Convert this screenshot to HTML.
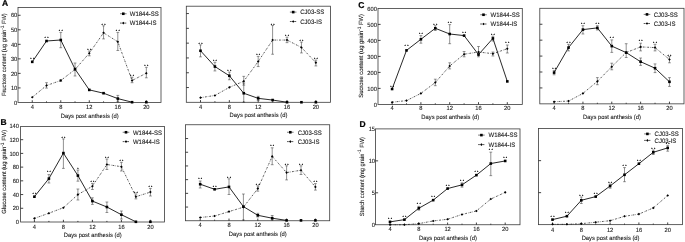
<!DOCTYPE html>
<html><head><meta charset="utf-8"><title>Figure</title>
<style>html,body{margin:0;padding:0;background:#fff}svg{display:block}</style></head>
<body>
<svg width="685" height="242" viewBox="0 0 685 242" font-family="Liberation Sans, sans-serif" text-rendering="geometricPrecision" font-size="5.8" fill="#1a1a1a" stroke="#1a1a1a" stroke-width="0.1">
<rect width="685" height="242" fill="#fff" stroke="none"/>
<g>
<rect x="18" y="7.5" width="143" height="94.95" fill="none" stroke="#3a3a3a" stroke-width="0.8"/>
<path d="M32.25 102.45v-2.2M46.51 102.45v-1.1M60.77 102.45v-2.2M75.03 102.45v-1.1M89.29 102.45v-2.2M103.55 102.45v-1.1M117.81 102.45v-2.2M132.07 102.45v-1.1M146.33 102.45v-2.2M18 87.92h2.6M18 73.39h2.6M18 58.86h2.6M18 44.33h2.6M18 29.8h2.6M18 15.27h2.6" stroke="#222" stroke-width="0.85" fill="none"/>
<text transform="translate(32.25 109.4) scale(0.94 1)" text-anchor="middle" font-size="6.1">4</text>
<text transform="translate(60.77 109.4) scale(0.94 1)" text-anchor="middle" font-size="6.1">8</text>
<text transform="translate(89.29 109.4) scale(0.94 1)" text-anchor="middle" font-size="6.1">12</text>
<text transform="translate(117.81 109.4) scale(0.94 1)" text-anchor="middle" font-size="6.1">16</text>
<text transform="translate(146.33 109.4) scale(0.94 1)" text-anchor="middle" font-size="6.1">20</text>
<text transform="translate(17.3 104.65) scale(0.94 1)" text-anchor="end" font-size="6.1">0</text>
<text transform="translate(17.3 90.12) scale(0.94 1)" text-anchor="end" font-size="6.1">10</text>
<text transform="translate(17.3 75.59) scale(0.94 1)" text-anchor="end" font-size="6.1">20</text>
<text transform="translate(17.3 61.06) scale(0.94 1)" text-anchor="end" font-size="6.1">30</text>
<text transform="translate(17.3 46.53) scale(0.94 1)" text-anchor="end" font-size="6.1">40</text>
<text transform="translate(17.3 32) scale(0.94 1)" text-anchor="end" font-size="6.1">50</text>
<text transform="translate(17.3 17.47) scale(0.94 1)" text-anchor="end" font-size="6.1">60</text>
<text transform="translate(89.7 118.2) scale(0.962 1)" text-anchor="middle" font-size="6.06">Days post anthesis (d)</text>
<path d="M60.77 32.4V47.7M75.03 63V76M117.81 95.4V101.3M46.51 82.7V88.1M60.77 79.5V81.5M89.29 51V55.8M103.55 25.8V38.9M117.81 32.4V50.5M132.07 77.2V82.7M146.33 67.3V77.8" stroke="#222" stroke-width="0.5" fill="none"/>
<path d="M59.37 32.4h2.8M59.37 47.7h2.8M73.63 63h2.8M73.63 76h2.8M116.41 95.4h2.8M116.41 101.3h2.8M45.11 82.7h2.8M45.11 88.1h2.8M59.37 79.5h2.8M59.37 81.5h2.8M87.89 51h2.8M87.89 55.8h2.8M102.15 25.8h2.8M102.15 38.9h2.8M116.41 32.4h2.8M116.41 50.5h2.8M130.67 77.2h2.8M130.67 82.7h2.8M144.93 67.3h2.8M144.93 77.8h2.8" stroke="#333" stroke-width="0.5" fill="none"/>
<polyline points="32.25,97.3 46.51,85.5 60.77,80.5 75.03,69.5 89.29,53.2 103.55,32.8 117.81,41.8 132.07,80.5 146.33,73.2" fill="none" stroke="#111" stroke-width="0.7" stroke-dasharray="1.8 1.1 0.5 1.1"/>
<path d="M32.25 96l1.3 1.3l-1.3 1.3l-1.3-1.3z" fill="#000" stroke="none"/>
<path d="M46.51 84.2l1.3 1.3l-1.3 1.3l-1.3-1.3z" fill="#000" stroke="none"/>
<path d="M60.77 79.2l1.3 1.3l-1.3 1.3l-1.3-1.3z" fill="#000" stroke="none"/>
<path d="M75.03 68.2l1.3 1.3l-1.3 1.3l-1.3-1.3z" fill="#000" stroke="none"/>
<path d="M89.29 51.9l1.3 1.3l-1.3 1.3l-1.3-1.3z" fill="#000" stroke="none"/>
<path d="M103.55 31.5l1.3 1.3l-1.3 1.3l-1.3-1.3z" fill="#000" stroke="none"/>
<path d="M117.81 40.5l1.3 1.3l-1.3 1.3l-1.3-1.3z" fill="#000" stroke="none"/>
<path d="M132.07 79.2l1.3 1.3l-1.3 1.3l-1.3-1.3z" fill="#000" stroke="none"/>
<path d="M146.33 71.9l1.3 1.3l-1.3 1.3l-1.3-1.3z" fill="#000" stroke="none"/>
<path d="M32.25 61.85L46.51 41M46.51 41L60.77 40M60.77 40L75.03 69.1M75.03 69.1L89.29 89.9M89.29 89.9L103.55 93.2M103.55 93.2L117.81 98.6M117.81 98.6L132.07 102.2" fill="none" stroke="#111" stroke-width="0.9" stroke-linecap="round"/>
<rect x="30.95" y="60.55" width="2.6" height="2.6" fill="#000" stroke="none"/>
<rect x="45.21" y="39.7" width="2.6" height="2.6" fill="#000" stroke="none"/>
<rect x="59.47" y="38.7" width="2.6" height="2.6" fill="#000" stroke="none"/>
<rect x="73.73" y="67.8" width="2.6" height="2.6" fill="#000" stroke="none"/>
<rect x="87.99" y="88.6" width="2.6" height="2.6" fill="#000" stroke="none"/>
<rect x="102.25" y="91.9" width="2.6" height="2.6" fill="#000" stroke="none"/>
<rect x="116.51" y="97.3" width="2.6" height="2.6" fill="#000" stroke="none"/>
<rect x="130.77" y="100.9" width="2.6" height="2.6" fill="#000" stroke="none"/>
<rect x="145.03" y="100.9" width="2.6" height="2.6" fill="#000" stroke="none"/>
<text x="32.9" y="60" text-anchor="middle" font-size="3.4" letter-spacing="1.3" fill="#000" stroke="#000" stroke-width="0.15">**</text>
<text x="47.16" y="38.9" text-anchor="middle" font-size="3.4" letter-spacing="1.3" fill="#000" stroke="#000" stroke-width="0.15">**</text>
<text x="61.42" y="32.4" text-anchor="middle" font-size="3.4" letter-spacing="1.3" fill="#000" stroke="#000" stroke-width="0.15">**</text>
<text x="89.94" y="50.75" text-anchor="middle" font-size="3.4" letter-spacing="1.3" fill="#000" stroke="#000" stroke-width="0.15">**</text>
<text x="104.2" y="25.8" text-anchor="middle" font-size="3.4" letter-spacing="1.3" fill="#000" stroke="#000" stroke-width="0.15">**</text>
<text x="118.46" y="32.3" text-anchor="middle" font-size="3.4" letter-spacing="1.3" fill="#000" stroke="#000" stroke-width="0.15">**</text>
<text x="132.72" y="77.2" text-anchor="middle" font-size="3.4" letter-spacing="1.3" fill="#000" stroke="#000" stroke-width="0.15">**</text>
<text x="146.98" y="67.3" text-anchor="middle" font-size="3.4" letter-spacing="1.3" fill="#000" stroke="#000" stroke-width="0.15">**</text>
<path d="M120 13.75h6.6" stroke="#222" stroke-width="0.6"/>
<rect x="122" y="12.45" width="2.6" height="2.6" fill="#000" stroke="none"/>
<path d="M120 23.1h6.6" stroke="#111" stroke-width="0.7" stroke-dasharray="1.8 1.1 0.5 1.1"/>
<path d="M123.3 21.8l1.3 1.3l-1.3 1.3l-1.3-1.3z" fill="#000" stroke="none"/>
<text transform="translate(129.75 16) scale(0.955 1)" font-size="6.3">W1844-SS</text>
<text transform="translate(129.75 25.35) scale(0.955 1)" font-size="6.3">W1844-IS</text>
</g>
<g>
<rect x="186.3" y="6.2" width="144.2" height="96.1" fill="none" stroke="#3a3a3a" stroke-width="0.8"/>
<path d="M200.5 102.3v-2.2M214.92 102.3v-1.1M229.34 102.3v-2.2M243.76 102.3v-1.1M258.18 102.3v-2.2M272.6 102.3v-1.1M287.02 102.3v-2.2M301.44 102.3v-1.1M315.86 102.3v-2.2M186.3 87.55h2.6M186.3 72.75h2.6M186.3 57.95h2.6M186.3 43.15h2.6M186.3 28.35h2.6M186.3 13.55h2.6" stroke="#222" stroke-width="0.85" fill="none"/>
<text transform="translate(200.5 108.95) scale(0.94 1)" text-anchor="middle" font-size="6.1">4</text>
<text transform="translate(229.34 108.95) scale(0.94 1)" text-anchor="middle" font-size="6.1">8</text>
<text transform="translate(258.18 108.95) scale(0.94 1)" text-anchor="middle" font-size="6.1">12</text>
<text transform="translate(287.02 108.95) scale(0.94 1)" text-anchor="middle" font-size="6.1">16</text>
<text transform="translate(315.86 108.95) scale(0.94 1)" text-anchor="middle" font-size="6.1">20</text>
<text transform="translate(258.5 117.2) scale(0.962 1)" text-anchor="middle" font-size="6.06">Days post anthesis (d)</text>
<path d="M200.5 44.85V56.85M214.92 62.25V70.95M229.34 72.05V79.75M243.76 83.05V102.3M258.18 96.35V100.35M243.76 76.35V85.15M258.18 56.35V66.55M272.6 25.55V54.25M287.02 37.15V42.65M301.44 42.05V52.95M315.86 60.05V65.95" stroke="#222" stroke-width="0.5" fill="none"/>
<path d="M199.1 44.85h2.8M199.1 56.85h2.8M213.52 62.25h2.8M213.52 70.95h2.8M227.94 72.05h2.8M227.94 79.75h2.8M242.36 83.05h2.8M242.36 102.3h2.8M256.78 96.35h2.8M256.78 100.35h2.8M242.36 76.35h2.8M242.36 85.15h2.8M256.78 56.35h2.8M256.78 66.55h2.8M271.2 25.55h2.8M271.2 54.25h2.8M285.62 37.15h2.8M285.62 42.65h2.8M300.04 42.05h2.8M300.04 52.95h2.8M314.46 60.05h2.8M314.46 65.95h2.8" stroke="#333" stroke-width="0.5" fill="none"/>
<polyline points="200.5,97.65 214.92,95.45 229.34,87.35 243.76,81.25 258.18,61.55 272.6,40.05 287.02,40.05 301.44,47.45 315.86,62.65" fill="none" stroke="#111" stroke-width="0.7" stroke-dasharray="1.8 1.1 0.5 1.1"/>
<path d="M200.5 96.35l1.3 1.3l-1.3 1.3l-1.3-1.3z" fill="#000" stroke="none"/>
<path d="M214.92 94.15l1.3 1.3l-1.3 1.3l-1.3-1.3z" fill="#000" stroke="none"/>
<path d="M229.34 86.05l1.3 1.3l-1.3 1.3l-1.3-1.3z" fill="#000" stroke="none"/>
<path d="M243.76 79.95l1.3 1.3l-1.3 1.3l-1.3-1.3z" fill="#000" stroke="none"/>
<path d="M258.18 60.25l1.3 1.3l-1.3 1.3l-1.3-1.3z" fill="#000" stroke="none"/>
<path d="M272.6 38.75l1.3 1.3l-1.3 1.3l-1.3-1.3z" fill="#000" stroke="none"/>
<path d="M287.02 38.75l1.3 1.3l-1.3 1.3l-1.3-1.3z" fill="#000" stroke="none"/>
<path d="M301.44 46.15l1.3 1.3l-1.3 1.3l-1.3-1.3z" fill="#000" stroke="none"/>
<path d="M315.86 61.35l1.3 1.3l-1.3 1.3l-1.3-1.3z" fill="#000" stroke="none"/>
<path d="M200.5 50.75L214.92 66.55M214.92 66.55L229.34 75.75M229.34 75.75L243.76 93.25M243.76 93.25L258.18 98.35M258.18 98.35L272.6 100.05M272.6 100.05L287.02 102.25" fill="none" stroke="#111" stroke-width="0.9" stroke-linecap="round"/>
<rect x="199.2" y="49.45" width="2.6" height="2.6" fill="#000" stroke="none"/>
<rect x="213.62" y="65.25" width="2.6" height="2.6" fill="#000" stroke="none"/>
<rect x="228.04" y="74.45" width="2.6" height="2.6" fill="#000" stroke="none"/>
<rect x="242.46" y="91.95" width="2.6" height="2.6" fill="#000" stroke="none"/>
<rect x="256.88" y="97.05" width="2.6" height="2.6" fill="#000" stroke="none"/>
<rect x="271.3" y="98.75" width="2.6" height="2.6" fill="#000" stroke="none"/>
<rect x="285.72" y="100.95" width="2.6" height="2.6" fill="#000" stroke="none"/>
<rect x="300.14" y="100.95" width="2.6" height="2.6" fill="#000" stroke="none"/>
<rect x="314.56" y="100.95" width="2.6" height="2.6" fill="#000" stroke="none"/>
<text x="201.15" y="44.65" text-anchor="middle" font-size="3.4" letter-spacing="1.3" fill="#000" stroke="#000" stroke-width="0.15">**</text>
<text x="215.57" y="62.05" text-anchor="middle" font-size="3.4" letter-spacing="1.3" fill="#000" stroke="#000" stroke-width="0.15">**</text>
<text x="229.99" y="72.05" text-anchor="middle" font-size="3.4" letter-spacing="1.3" fill="#000" stroke="#000" stroke-width="0.15">**</text>
<text x="258.83" y="56.1" text-anchor="middle" font-size="3.4" letter-spacing="1.3" fill="#000" stroke="#000" stroke-width="0.15">**</text>
<text x="273.25" y="25.55" text-anchor="middle" font-size="3.4" letter-spacing="1.3" fill="#000" stroke="#000" stroke-width="0.15">**</text>
<text x="287.67" y="36.95" text-anchor="middle" font-size="3.4" letter-spacing="1.3" fill="#000" stroke="#000" stroke-width="0.15">**</text>
<text x="302.09" y="42.05" text-anchor="middle" font-size="3.4" letter-spacing="1.3" fill="#000" stroke="#000" stroke-width="0.15">**</text>
<text x="316.51" y="60.05" text-anchor="middle" font-size="3.4" letter-spacing="1.3" fill="#000" stroke="#000" stroke-width="0.15">**</text>
<path d="M289.9 12.1h6.6" stroke="#222" stroke-width="0.6"/>
<rect x="291.9" y="10.8" width="2.6" height="2.6" fill="#000" stroke="none"/>
<path d="M289.9 21.5h6.6" stroke="#111" stroke-width="0.7" stroke-dasharray="1.8 1.1 0.5 1.1"/>
<path d="M293.2 20.2l1.3 1.3l-1.3 1.3l-1.3-1.3z" fill="#000" stroke="none"/>
<text transform="translate(300.25 14.35) scale(0.955 1)" font-size="6.3">CJ03-SS</text>
<text transform="translate(300.25 23.75) scale(0.955 1)" font-size="6.3">CJ03-IS</text>
</g>
<g>
<rect x="20.6" y="126.4" width="143.9" height="95.6" fill="none" stroke="#3a3a3a" stroke-width="0.8"/>
<path d="M34.4 222v-2.2M48.9 222v-1.1M63.4 222v-2.2M77.9 222v-1.1M92.4 222v-2.2M106.9 222v-1.1M121.4 222v-2.2M135.9 222v-1.1M150.4 222v-2.2M20.6 208.28h2.6M20.6 194.56h2.6M20.6 180.84h2.6M20.6 167.12h2.6M20.6 153.4h2.6M20.6 139.68h2.6" stroke="#222" stroke-width="0.85" fill="none"/>
<text transform="translate(34.4 228.55) scale(0.94 1)" text-anchor="middle" font-size="6.1">4</text>
<text transform="translate(63.4 228.55) scale(0.94 1)" text-anchor="middle" font-size="6.1">8</text>
<text transform="translate(92.4 228.55) scale(0.94 1)" text-anchor="middle" font-size="6.1">12</text>
<text transform="translate(121.4 228.55) scale(0.94 1)" text-anchor="middle" font-size="6.1">16</text>
<text transform="translate(150.4 228.55) scale(0.94 1)" text-anchor="middle" font-size="6.1">20</text>
<text transform="translate(19 224.2) scale(0.94 1)" text-anchor="end" font-size="6.1">0</text>
<text transform="translate(19 210.48) scale(0.94 1)" text-anchor="end" font-size="6.1">20</text>
<text transform="translate(19 196.76) scale(0.94 1)" text-anchor="end" font-size="6.1">40</text>
<text transform="translate(19 183.04) scale(0.94 1)" text-anchor="end" font-size="6.1">60</text>
<text transform="translate(19 169.32) scale(0.94 1)" text-anchor="end" font-size="6.1">80</text>
<text transform="translate(19 155.6) scale(0.94 1)" text-anchor="end" font-size="6.1">100</text>
<text transform="translate(19 141.88) scale(0.94 1)" text-anchor="end" font-size="6.1">120</text>
<text transform="translate(19 128.16) scale(0.94 1)" text-anchor="end" font-size="6.1">140</text>
<text transform="translate(92.7 237) scale(0.962 1)" text-anchor="middle" font-size="6.06">Days post anthesis (d)</text>
<path d="M48.9 174.6V183M63.4 138.9V168.4M77.9 170V181.2M92.4 197.8V204.4M106.9 202V212.5M121.4 211V219M77.9 189V200M92.4 183.4V189.5M106.9 159V169.5M121.4 162.3V171M135.9 193.9V198.9M150.4 188.4V196" stroke="#222" stroke-width="0.5" fill="none"/>
<path d="M47.5 174.6h2.8M47.5 183h2.8M62 138.9h2.8M62 168.4h2.8M76.5 170h2.8M76.5 181.2h2.8M91 197.8h2.8M91 204.4h2.8M105.5 202h2.8M105.5 212.5h2.8M120 211h2.8M120 219h2.8M76.5 189h2.8M76.5 200h2.8M91 183.4h2.8M91 189.5h2.8M105.5 159h2.8M105.5 169.5h2.8M120 162.3h2.8M120 171h2.8M134.5 193.9h2.8M134.5 198.9h2.8M149 188.4h2.8M149 196h2.8" stroke="#333" stroke-width="0.5" fill="none"/>
<polyline points="34.4,218.4 48.9,213.2 63.4,207.7 77.9,194.6 92.4,186.2 106.9,164.5 121.4,166.7 135.9,196.7 150.4,192.1" fill="none" stroke="#111" stroke-width="0.7" stroke-dasharray="1.8 1.1 0.5 1.1"/>
<path d="M34.4 217.1l1.3 1.3l-1.3 1.3l-1.3-1.3z" fill="#000" stroke="none"/>
<path d="M48.9 211.9l1.3 1.3l-1.3 1.3l-1.3-1.3z" fill="#000" stroke="none"/>
<path d="M63.4 206.4l1.3 1.3l-1.3 1.3l-1.3-1.3z" fill="#000" stroke="none"/>
<path d="M77.9 193.3l1.3 1.3l-1.3 1.3l-1.3-1.3z" fill="#000" stroke="none"/>
<path d="M92.4 184.9l1.3 1.3l-1.3 1.3l-1.3-1.3z" fill="#000" stroke="none"/>
<path d="M106.9 163.2l1.3 1.3l-1.3 1.3l-1.3-1.3z" fill="#000" stroke="none"/>
<path d="M121.4 165.4l1.3 1.3l-1.3 1.3l-1.3-1.3z" fill="#000" stroke="none"/>
<path d="M135.9 195.4l1.3 1.3l-1.3 1.3l-1.3-1.3z" fill="#000" stroke="none"/>
<path d="M150.4 190.8l1.3 1.3l-1.3 1.3l-1.3-1.3z" fill="#000" stroke="none"/>
<path d="M34.4 196.7L48.9 178.6M48.9 178.6L63.4 153.1M63.4 153.1L77.9 175.6M77.9 175.6L92.4 201.1M92.4 201.1L106.9 207M106.9 207L121.4 214.7M121.4 214.7L135.9 221.8" fill="none" stroke="#111" stroke-width="0.9" stroke-linecap="round"/>
<rect x="33.1" y="195.4" width="2.6" height="2.6" fill="#000" stroke="none"/>
<rect x="47.6" y="177.3" width="2.6" height="2.6" fill="#000" stroke="none"/>
<rect x="62.1" y="151.8" width="2.6" height="2.6" fill="#000" stroke="none"/>
<rect x="76.6" y="174.3" width="2.6" height="2.6" fill="#000" stroke="none"/>
<rect x="91.1" y="199.8" width="2.6" height="2.6" fill="#000" stroke="none"/>
<rect x="105.6" y="205.7" width="2.6" height="2.6" fill="#000" stroke="none"/>
<rect x="120.1" y="213.4" width="2.6" height="2.6" fill="#000" stroke="none"/>
<rect x="134.6" y="220.5" width="2.6" height="2.6" fill="#000" stroke="none"/>
<rect x="149.1" y="220.5" width="2.6" height="2.6" fill="#000" stroke="none"/>
<text x="35.05" y="195.2" text-anchor="middle" font-size="3.4" letter-spacing="1.3" fill="#000" stroke="#000" stroke-width="0.15">**</text>
<text x="49.55" y="173" text-anchor="middle" font-size="3.4" letter-spacing="1.3" fill="#000" stroke="#000" stroke-width="0.15">**</text>
<text x="64.05" y="138.7" text-anchor="middle" font-size="3.4" letter-spacing="1.3" fill="#000" stroke="#000" stroke-width="0.15">**</text>
<text x="78.55" y="169.8" text-anchor="middle" font-size="3.4" letter-spacing="1.3" fill="#000" stroke="#000" stroke-width="0.15">*</text>
<text x="93.05" y="182.8" text-anchor="middle" font-size="3.4" letter-spacing="1.3" fill="#000" stroke="#000" stroke-width="0.15">**</text>
<text x="107.55" y="159" text-anchor="middle" font-size="3.4" letter-spacing="1.3" fill="#000" stroke="#000" stroke-width="0.15">**</text>
<text x="122.05" y="162" text-anchor="middle" font-size="3.4" letter-spacing="1.3" fill="#000" stroke="#000" stroke-width="0.15">**</text>
<text x="136.55" y="193.9" text-anchor="middle" font-size="3.4" letter-spacing="1.3" fill="#000" stroke="#000" stroke-width="0.15">**</text>
<text x="151.05" y="187.8" text-anchor="middle" font-size="3.4" letter-spacing="1.3" fill="#000" stroke="#000" stroke-width="0.15">**</text>
<path d="M122.7 132.25h6.6" stroke="#222" stroke-width="0.6"/>
<rect x="124.7" y="130.95" width="2.6" height="2.6" fill="#000" stroke="none"/>
<path d="M122.7 141.6h6.6" stroke="#111" stroke-width="0.7" stroke-dasharray="1.8 1.1 0.5 1.1"/>
<path d="M126 140.3l1.3 1.3l-1.3 1.3l-1.3-1.3z" fill="#000" stroke="none"/>
<text transform="translate(132.9 134.5) scale(0.955 1)" font-size="6.3">W1844-SS</text>
<text transform="translate(132.9 143.85) scale(0.955 1)" font-size="6.3">W1844-IS</text>
</g>
<g>
<rect x="185.5" y="124.75" width="144.2" height="96" fill="none" stroke="#3a3a3a" stroke-width="0.8"/>
<path d="M200.2 220.75v-2.2M214.6 220.75v-1.1M229 220.75v-2.2M243.4 220.75v-1.1M257.8 220.75v-2.2M272.2 220.75v-1.1M286.6 220.75v-2.2M301 220.75v-1.1M315.4 220.75v-2.2M185.5 207.05h2.6M185.5 193.35h2.6M185.5 179.65h2.6M185.5 165.95h2.6M185.5 152.25h2.6M185.5 138.55h2.6" stroke="#222" stroke-width="0.85" fill="none"/>
<text transform="translate(200.2 226.75) scale(0.94 1)" text-anchor="middle" font-size="6.1">4</text>
<text transform="translate(229 226.75) scale(0.94 1)" text-anchor="middle" font-size="6.1">8</text>
<text transform="translate(257.8 226.75) scale(0.94 1)" text-anchor="middle" font-size="6.1">12</text>
<text transform="translate(286.6 226.75) scale(0.94 1)" text-anchor="middle" font-size="6.1">16</text>
<text transform="translate(315.4 226.75) scale(0.94 1)" text-anchor="middle" font-size="6.1">20</text>
<text transform="translate(257.8 236) scale(0.962 1)" text-anchor="middle" font-size="6.06">Days post anthesis (d)</text>
<path d="M200.2 181V188M229 178.8V194.5M243.4 194V220M257.8 213.3V217M272.2 215.5V220M257.8 185.8V191.2M272.2 147.8V164.7M286.6 165.8V179.9M301 165.8V174.5M315.4 183.6V190.1" stroke="#222" stroke-width="0.5" fill="none"/>
<path d="M198.8 181h2.8M198.8 188h2.8M227.6 178.8h2.8M227.6 194.5h2.8M242 194h2.8M242 220h2.8M256.4 213.3h2.8M256.4 217h2.8M270.8 215.5h2.8M270.8 220h2.8M256.4 185.8h2.8M256.4 191.2h2.8M270.8 147.8h2.8M270.8 164.7h2.8M285.2 165.8h2.8M285.2 179.9h2.8M299.6 165.8h2.8M299.6 174.5h2.8M314 183.6h2.8M314 190.1h2.8" stroke="#333" stroke-width="0.5" fill="none"/>
<polyline points="200.2,217.5 214.6,216 229,211.6 243.4,207.2 257.8,188.6 272.2,156.4 286.6,172.6 301,170.2 315.4,186.9" fill="none" stroke="#111" stroke-width="0.7" stroke-dasharray="1.8 1.1 0.5 1.1"/>
<path d="M200.2 216.2l1.3 1.3l-1.3 1.3l-1.3-1.3z" fill="#000" stroke="none"/>
<path d="M214.6 214.7l1.3 1.3l-1.3 1.3l-1.3-1.3z" fill="#000" stroke="none"/>
<path d="M229 210.3l1.3 1.3l-1.3 1.3l-1.3-1.3z" fill="#000" stroke="none"/>
<path d="M243.4 205.9l1.3 1.3l-1.3 1.3l-1.3-1.3z" fill="#000" stroke="none"/>
<path d="M257.8 187.3l1.3 1.3l-1.3 1.3l-1.3-1.3z" fill="#000" stroke="none"/>
<path d="M272.2 155.1l1.3 1.3l-1.3 1.3l-1.3-1.3z" fill="#000" stroke="none"/>
<path d="M286.6 171.3l1.3 1.3l-1.3 1.3l-1.3-1.3z" fill="#000" stroke="none"/>
<path d="M301 168.9l1.3 1.3l-1.3 1.3l-1.3-1.3z" fill="#000" stroke="none"/>
<path d="M315.4 185.6l1.3 1.3l-1.3 1.3l-1.3-1.3z" fill="#000" stroke="none"/>
<path d="M200.2 184.2L214.6 189.3M214.6 189.3L229 186.9M229 186.9L243.4 206.6M243.4 206.6L257.8 215.3M257.8 215.3L272.2 218.2M272.2 218.2L286.6 220.4" fill="none" stroke="#111" stroke-width="0.9" stroke-linecap="round"/>
<rect x="198.9" y="182.9" width="2.6" height="2.6" fill="#000" stroke="none"/>
<rect x="213.3" y="188" width="2.6" height="2.6" fill="#000" stroke="none"/>
<rect x="227.7" y="185.6" width="2.6" height="2.6" fill="#000" stroke="none"/>
<rect x="242.1" y="205.3" width="2.6" height="2.6" fill="#000" stroke="none"/>
<rect x="256.5" y="214" width="2.6" height="2.6" fill="#000" stroke="none"/>
<rect x="270.9" y="216.9" width="2.6" height="2.6" fill="#000" stroke="none"/>
<rect x="285.3" y="219.1" width="2.6" height="2.6" fill="#000" stroke="none"/>
<rect x="299.7" y="219.1" width="2.6" height="2.6" fill="#000" stroke="none"/>
<rect x="314.1" y="219.1" width="2.6" height="2.6" fill="#000" stroke="none"/>
<text x="200.85" y="180.3" text-anchor="middle" font-size="3.4" letter-spacing="1.3" fill="#000" stroke="#000" stroke-width="0.15">**</text>
<text x="215.25" y="187.8" text-anchor="middle" font-size="3.4" letter-spacing="1.3" fill="#000" stroke="#000" stroke-width="0.15">**</text>
<text x="229.65" y="178.6" text-anchor="middle" font-size="3.4" letter-spacing="1.3" fill="#000" stroke="#000" stroke-width="0.15">**</text>
<text x="258.45" y="185.6" text-anchor="middle" font-size="3.4" letter-spacing="1.3" fill="#000" stroke="#000" stroke-width="0.15">**</text>
<text x="272.85" y="147" text-anchor="middle" font-size="3.4" letter-spacing="1.3" fill="#000" stroke="#000" stroke-width="0.15">**</text>
<text x="287.25" y="165.6" text-anchor="middle" font-size="3.4" letter-spacing="1.3" fill="#000" stroke="#000" stroke-width="0.15">**</text>
<text x="301.65" y="165.6" text-anchor="middle" font-size="3.4" letter-spacing="1.3" fill="#000" stroke="#000" stroke-width="0.15">**</text>
<text x="316.05" y="183" text-anchor="middle" font-size="3.4" letter-spacing="1.3" fill="#000" stroke="#000" stroke-width="0.15">**</text>
<path d="M287 132.25h6.6" stroke="#222" stroke-width="0.6"/>
<rect x="289" y="130.95" width="2.6" height="2.6" fill="#000" stroke="none"/>
<path d="M287 141.6h6.6" stroke="#111" stroke-width="0.7" stroke-dasharray="1.8 1.1 0.5 1.1"/>
<path d="M290.3 140.3l1.3 1.3l-1.3 1.3l-1.3-1.3z" fill="#000" stroke="none"/>
<text transform="translate(297.75 134.5) scale(0.955 1)" font-size="6.3">CJ03-SS</text>
<text transform="translate(297.75 143.85) scale(0.955 1)" font-size="6.3">CJ03-IS</text>
</g>
<g>
<rect x="378" y="8.4" width="144.3" height="96" fill="none" stroke="#3a3a3a" stroke-width="0.8"/>
<path d="M392.1 104.4v-2.2M406.5 104.4v-1.1M420.9 104.4v-2.2M435.3 104.4v-1.1M449.7 104.4v-2.2M464.1 104.4v-1.1M478.5 104.4v-2.2M492.9 104.4v-1.1M507.3 104.4v-2.2M378 88.4h2.6M378 72.4h2.6M378 56.4h2.6M378 40.4h2.6M378 24.4h2.6" stroke="#222" stroke-width="0.85" fill="none"/>
<text transform="translate(392.1 110.4) scale(0.94 1)" text-anchor="middle" font-size="6.1">4</text>
<text transform="translate(420.9 110.4) scale(0.94 1)" text-anchor="middle" font-size="6.1">8</text>
<text transform="translate(449.7 110.4) scale(0.94 1)" text-anchor="middle" font-size="6.1">12</text>
<text transform="translate(478.5 110.4) scale(0.94 1)" text-anchor="middle" font-size="6.1">16</text>
<text transform="translate(507.3 110.4) scale(0.94 1)" text-anchor="middle" font-size="6.1">20</text>
<text transform="translate(376.9 106.6) scale(0.94 1)" text-anchor="end" font-size="6.1">0</text>
<text transform="translate(376.9 90.6) scale(0.94 1)" text-anchor="end" font-size="6.1">100</text>
<text transform="translate(376.9 74.6) scale(0.94 1)" text-anchor="end" font-size="6.1">200</text>
<text transform="translate(376.9 58.6) scale(0.94 1)" text-anchor="end" font-size="6.1">300</text>
<text transform="translate(376.9 42.6) scale(0.94 1)" text-anchor="end" font-size="6.1">400</text>
<text transform="translate(376.9 26.6) scale(0.94 1)" text-anchor="end" font-size="6.1">500</text>
<text transform="translate(376.9 10.6) scale(0.94 1)" text-anchor="end" font-size="6.1">600</text>
<text transform="translate(450.3 119.3) scale(0.962 1)" text-anchor="middle" font-size="6.06">Days post anthesis (d)</text>
<path d="M420.9 35.6V43.2M435.3 25.7V30.5M449.7 24.6V43.7M478.5 46.5V56.8M492.9 36.2V41M435.3 79.2V85.7M449.7 62.8V68.9M464.1 51.5V56.8M492.9 52V56M507.3 45V53" stroke="#222" stroke-width="0.5" fill="none"/>
<path d="M419.5 35.6h2.8M419.5 43.2h2.8M433.9 25.7h2.8M433.9 30.5h2.8M448.3 24.6h2.8M448.3 43.7h2.8M477.1 46.5h2.8M477.1 56.8h2.8M491.5 36.2h2.8M491.5 41h2.8M433.9 79.2h2.8M433.9 85.7h2.8M448.3 62.8h2.8M448.3 68.9h2.8M462.7 51.5h2.8M462.7 56.8h2.8M491.5 52h2.8M491.5 56h2.8M505.9 45h2.8M505.9 53h2.8" stroke="#333" stroke-width="0.5" fill="none"/>
<polyline points="392.1,102.2 406.5,100.6 420.9,93.4 435.3,82.5 449.7,66 464.1,54.2 478.5,52 492.9,53.7 507.3,48.7" fill="none" stroke="#111" stroke-width="0.7" stroke-dasharray="1.8 1.1 0.5 1.1"/>
<path d="M392.1 100.9l1.3 1.3l-1.3 1.3l-1.3-1.3z" fill="#000" stroke="none"/>
<path d="M406.5 99.3l1.3 1.3l-1.3 1.3l-1.3-1.3z" fill="#000" stroke="none"/>
<path d="M420.9 92.1l1.3 1.3l-1.3 1.3l-1.3-1.3z" fill="#000" stroke="none"/>
<path d="M435.3 81.2l1.3 1.3l-1.3 1.3l-1.3-1.3z" fill="#000" stroke="none"/>
<path d="M449.7 64.7l1.3 1.3l-1.3 1.3l-1.3-1.3z" fill="#000" stroke="none"/>
<path d="M464.1 52.9l1.3 1.3l-1.3 1.3l-1.3-1.3z" fill="#000" stroke="none"/>
<path d="M478.5 50.7l1.3 1.3l-1.3 1.3l-1.3-1.3z" fill="#000" stroke="none"/>
<path d="M492.9 52.4l1.3 1.3l-1.3 1.3l-1.3-1.3z" fill="#000" stroke="none"/>
<path d="M507.3 47.4l1.3 1.3l-1.3 1.3l-1.3-1.3z" fill="#000" stroke="none"/>
<path d="M392.1 89L406.5 50.4M406.5 50.4L420.9 39.3M420.9 39.3L435.3 28.3M435.3 28.3L449.7 34M449.7 34L464.1 35.6M464.1 35.6L478.5 54.6M478.5 54.6L492.9 38.4M492.9 38.4L507.3 81.4" fill="none" stroke="#111" stroke-width="0.9" stroke-linecap="round"/>
<rect x="390.8" y="87.7" width="2.6" height="2.6" fill="#000" stroke="none"/>
<rect x="405.2" y="49.1" width="2.6" height="2.6" fill="#000" stroke="none"/>
<rect x="419.6" y="38" width="2.6" height="2.6" fill="#000" stroke="none"/>
<rect x="434" y="27" width="2.6" height="2.6" fill="#000" stroke="none"/>
<rect x="448.4" y="32.7" width="2.6" height="2.6" fill="#000" stroke="none"/>
<rect x="462.8" y="34.3" width="2.6" height="2.6" fill="#000" stroke="none"/>
<rect x="477.2" y="53.3" width="2.6" height="2.6" fill="#000" stroke="none"/>
<rect x="491.6" y="37.1" width="2.6" height="2.6" fill="#000" stroke="none"/>
<rect x="506" y="80.1" width="2.6" height="2.6" fill="#000" stroke="none"/>
<text x="392.75" y="87.7" text-anchor="middle" font-size="3.4" letter-spacing="1.3" fill="#000" stroke="#000" stroke-width="0.15">**</text>
<text x="407.15" y="47.4" text-anchor="middle" font-size="3.4" letter-spacing="1.3" fill="#000" stroke="#000" stroke-width="0.15">**</text>
<text x="421.55" y="34.7" text-anchor="middle" font-size="3.4" letter-spacing="1.3" fill="#000" stroke="#000" stroke-width="0.15">**</text>
<text x="435.95" y="25.5" text-anchor="middle" font-size="3.4" letter-spacing="1.3" fill="#000" stroke="#000" stroke-width="0.15">**</text>
<text x="450.35" y="23.8" text-anchor="middle" font-size="3.4" letter-spacing="1.3" fill="#000" stroke="#000" stroke-width="0.15">**</text>
<text x="464.75" y="33.8" text-anchor="middle" font-size="3.4" letter-spacing="1.3" fill="#000" stroke="#000" stroke-width="0.15">**</text>
<text x="493.55" y="36" text-anchor="middle" font-size="3.4" letter-spacing="1.3" fill="#000" stroke="#000" stroke-width="0.15">**</text>
<text x="507.95" y="43.5" text-anchor="middle" font-size="3.4" letter-spacing="1.3" fill="#000" stroke="#000" stroke-width="0.15">**</text>
<path d="M480.2 14.75h6.6" stroke="#222" stroke-width="0.6"/>
<rect x="482.2" y="13.45" width="2.6" height="2.6" fill="#000" stroke="none"/>
<path d="M480.2 24h6.6" stroke="#111" stroke-width="0.7" stroke-dasharray="1.8 1.1 0.5 1.1"/>
<path d="M483.5 22.7l1.3 1.3l-1.3 1.3l-1.3-1.3z" fill="#000" stroke="none"/>
<text transform="translate(490.6 17) scale(0.955 1)" font-size="6.3">W1844-SS</text>
<text transform="translate(490.6 26.25) scale(0.955 1)" font-size="6.3">W1844-IS</text>
</g>
<g>
<rect x="539.8" y="8.3" width="144.2" height="95.55" fill="none" stroke="#3a3a3a" stroke-width="0.8"/>
<path d="M554.1 103.85v-2.2M568.52 103.85v-1.1M582.94 103.85v-2.2M597.36 103.85v-1.1M611.78 103.85v-2.2M626.2 103.85v-1.1M640.62 103.85v-2.2M655.04 103.85v-1.1M669.46 103.85v-2.2M539.8 87.93h2.6M539.8 72.01h2.6M539.8 56.09h2.6M539.8 40.17h2.6M539.8 24.25h2.6" stroke="#222" stroke-width="0.85" fill="none"/>
<text transform="translate(554.1 110.25) scale(0.94 1)" text-anchor="middle" font-size="6.1">4</text>
<text transform="translate(582.94 110.25) scale(0.94 1)" text-anchor="middle" font-size="6.1">8</text>
<text transform="translate(611.78 110.25) scale(0.94 1)" text-anchor="middle" font-size="6.1">12</text>
<text transform="translate(640.62 110.25) scale(0.94 1)" text-anchor="middle" font-size="6.1">16</text>
<text transform="translate(669.46 110.25) scale(0.94 1)" text-anchor="middle" font-size="6.1">20</text>
<text transform="translate(612 118.9) scale(0.962 1)" text-anchor="middle" font-size="6.06">Days post anthesis (d)</text>
<path d="M554.1 70.4V74.8M568.52 44.3V50.9M582.94 25.7V34M597.36 25.7V30M611.78 39.9V52.4M626.2 43.7V57.5M640.62 58V65.4M655.04 63.9V72.6M669.46 77.6V86.4M597.36 77.6V84.7M611.78 63.2V69.8M640.62 43.2V50.9M655.04 44.3V50.9M669.46 56.6V62.8" stroke="#222" stroke-width="0.5" fill="none"/>
<path d="M552.7 70.4h2.8M552.7 74.8h2.8M567.12 44.3h2.8M567.12 50.9h2.8M581.54 25.7h2.8M581.54 34h2.8M595.96 25.7h2.8M595.96 30h2.8M610.38 39.9h2.8M610.38 52.4h2.8M624.8 43.7h2.8M624.8 57.5h2.8M639.22 58h2.8M639.22 65.4h2.8M653.64 63.9h2.8M653.64 72.6h2.8M668.06 77.6h2.8M668.06 86.4h2.8M595.96 77.6h2.8M595.96 84.7h2.8M610.38 63.2h2.8M610.38 69.8h2.8M639.22 43.2h2.8M639.22 50.9h2.8M653.64 44.3h2.8M653.64 50.9h2.8M668.06 56.6h2.8M668.06 62.8h2.8" stroke="#333" stroke-width="0.5" fill="none"/>
<polyline points="554.1,101.7 568.52,101.1 582.94,93.4 597.36,81.4 611.78,66.7 626.2,52.5 640.62,46.9 655.04,47.6 669.46,59.5" fill="none" stroke="#111" stroke-width="0.7" stroke-dasharray="1.8 1.1 0.5 1.1"/>
<path d="M554.1 100.4l1.3 1.3l-1.3 1.3l-1.3-1.3z" fill="#000" stroke="none"/>
<path d="M568.52 99.8l1.3 1.3l-1.3 1.3l-1.3-1.3z" fill="#000" stroke="none"/>
<path d="M582.94 92.1l1.3 1.3l-1.3 1.3l-1.3-1.3z" fill="#000" stroke="none"/>
<path d="M597.36 80.1l1.3 1.3l-1.3 1.3l-1.3-1.3z" fill="#000" stroke="none"/>
<path d="M611.78 65.4l1.3 1.3l-1.3 1.3l-1.3-1.3z" fill="#000" stroke="none"/>
<path d="M626.2 51.2l1.3 1.3l-1.3 1.3l-1.3-1.3z" fill="#000" stroke="none"/>
<path d="M640.62 45.6l1.3 1.3l-1.3 1.3l-1.3-1.3z" fill="#000" stroke="none"/>
<path d="M655.04 46.3l1.3 1.3l-1.3 1.3l-1.3-1.3z" fill="#000" stroke="none"/>
<path d="M669.46 58.2l1.3 1.3l-1.3 1.3l-1.3-1.3z" fill="#000" stroke="none"/>
<path d="M554.1 72.6L568.52 47.6M568.52 47.6L582.94 29.6M582.94 29.6L597.36 27.9M597.36 27.9L611.78 46.1M611.78 46.1L626.2 52.6M626.2 52.6L640.62 61.7M640.62 61.7L655.04 68.2M655.04 68.2L669.46 81.8" fill="none" stroke="#111" stroke-width="0.9" stroke-linecap="round"/>
<rect x="552.8" y="71.3" width="2.6" height="2.6" fill="#000" stroke="none"/>
<rect x="567.22" y="46.3" width="2.6" height="2.6" fill="#000" stroke="none"/>
<rect x="581.64" y="28.3" width="2.6" height="2.6" fill="#000" stroke="none"/>
<rect x="596.06" y="26.6" width="2.6" height="2.6" fill="#000" stroke="none"/>
<rect x="610.48" y="44.8" width="2.6" height="2.6" fill="#000" stroke="none"/>
<rect x="624.9" y="51.3" width="2.6" height="2.6" fill="#000" stroke="none"/>
<rect x="639.32" y="60.4" width="2.6" height="2.6" fill="#000" stroke="none"/>
<rect x="653.74" y="66.9" width="2.6" height="2.6" fill="#000" stroke="none"/>
<rect x="668.16" y="80.5" width="2.6" height="2.6" fill="#000" stroke="none"/>
<text x="554.75" y="69.6" text-anchor="middle" font-size="3.4" letter-spacing="1.3" fill="#000" stroke="#000" stroke-width="0.15">**</text>
<text x="569.17" y="44.1" text-anchor="middle" font-size="3.4" letter-spacing="1.3" fill="#000" stroke="#000" stroke-width="0.15">**</text>
<text x="583.59" y="24.9" text-anchor="middle" font-size="3.4" letter-spacing="1.3" fill="#000" stroke="#000" stroke-width="0.15">**</text>
<text x="598.01" y="24.9" text-anchor="middle" font-size="3.4" letter-spacing="1.3" fill="#000" stroke="#000" stroke-width="0.15">**</text>
<text x="612.43" y="39.3" text-anchor="middle" font-size="3.4" letter-spacing="1.3" fill="#000" stroke="#000" stroke-width="0.15">**</text>
<text x="641.27" y="42.4" text-anchor="middle" font-size="3.4" letter-spacing="1.3" fill="#000" stroke="#000" stroke-width="0.15">**</text>
<text x="655.69" y="43.5" text-anchor="middle" font-size="3.4" letter-spacing="1.3" fill="#000" stroke="#000" stroke-width="0.15">**</text>
<text x="670.11" y="56.6" text-anchor="middle" font-size="3.4" letter-spacing="1.3" fill="#000" stroke="#000" stroke-width="0.15">**</text>
<path d="M643.7 14.4h6.6" stroke="#222" stroke-width="0.6"/>
<rect x="645.7" y="13.1" width="2.6" height="2.6" fill="#000" stroke="none"/>
<path d="M643.7 23.5h6.6" stroke="#111" stroke-width="0.7" stroke-dasharray="1.8 1.1 0.5 1.1"/>
<path d="M647 22.2l1.3 1.3l-1.3 1.3l-1.3-1.3z" fill="#000" stroke="none"/>
<text transform="translate(653.75 16.65) scale(0.955 1)" font-size="6.3">CJ03-SS</text>
<text transform="translate(653.75 25.75) scale(0.955 1)" font-size="6.3">CJ03-IS</text>
</g>
<g>
<rect x="375.5" y="128.9" width="144.5" height="95.85" fill="none" stroke="#3a3a3a" stroke-width="0.8"/>
<path d="M390 224.75v-2.2M404.4 224.75v-1.1M418.8 224.75v-2.2M433.2 224.75v-1.1M447.6 224.75v-2.2M462 224.75v-1.1M476.4 224.75v-2.2M490.8 224.75v-1.1M505.2 224.75v-2.2M375.5 192.8h2.6M375.5 160.85h2.6" stroke="#222" stroke-width="0.85" fill="none"/>
<text transform="translate(390 231) scale(0.94 1)" text-anchor="middle" font-size="6.1">4</text>
<text transform="translate(418.8 231) scale(0.94 1)" text-anchor="middle" font-size="6.1">8</text>
<text transform="translate(447.6 231) scale(0.94 1)" text-anchor="middle" font-size="6.1">12</text>
<text transform="translate(476.4 231) scale(0.94 1)" text-anchor="middle" font-size="6.1">16</text>
<text transform="translate(505.2 231) scale(0.94 1)" text-anchor="middle" font-size="6.1">20</text>
<text transform="translate(375 226.95) scale(0.94 1)" text-anchor="end" font-size="6.1">0</text>
<text transform="translate(375 195) scale(0.94 1)" text-anchor="end" font-size="6.1">5</text>
<text transform="translate(375 163.05) scale(0.94 1)" text-anchor="end" font-size="6.1">10</text>
<text transform="translate(375 131.1) scale(0.94 1)" text-anchor="end" font-size="6.1">15</text>
<text transform="translate(447.9 239.8) scale(0.962 1)" text-anchor="middle" font-size="6.06">Days post anthesis (d)</text>
<path d="M418.8 206.35V210.15M462 182.85V187.15M490.8 152.15V175.65" stroke="#222" stroke-width="0.5" fill="none"/>
<path d="M417.4 206.35h2.8M417.4 210.15h2.8M460.6 182.85h2.8M460.6 187.15h2.8M489.4 152.15h2.8M489.4 175.65h2.8" stroke="#333" stroke-width="0.5" fill="none"/>
<polyline points="390,224.75 404.4,224.75 418.8,223.65 433.2,220.95 447.6,219.25 462,214.45 476.4,210.95 490.8,199.05 505.2,192.35" fill="none" stroke="#111" stroke-width="0.7" stroke-dasharray="1.8 1.1 0.5 1.1"/>
<path d="M390 223.45l1.3 1.3l-1.3 1.3l-1.3-1.3z" fill="#000" stroke="none"/>
<path d="M404.4 223.45l1.3 1.3l-1.3 1.3l-1.3-1.3z" fill="#000" stroke="none"/>
<path d="M418.8 222.35l1.3 1.3l-1.3 1.3l-1.3-1.3z" fill="#000" stroke="none"/>
<path d="M433.2 219.65l1.3 1.3l-1.3 1.3l-1.3-1.3z" fill="#000" stroke="none"/>
<path d="M447.6 217.95l1.3 1.3l-1.3 1.3l-1.3-1.3z" fill="#000" stroke="none"/>
<path d="M462 213.15l1.3 1.3l-1.3 1.3l-1.3-1.3z" fill="#000" stroke="none"/>
<path d="M476.4 209.65l1.3 1.3l-1.3 1.3l-1.3-1.3z" fill="#000" stroke="none"/>
<path d="M490.8 197.75l1.3 1.3l-1.3 1.3l-1.3-1.3z" fill="#000" stroke="none"/>
<path d="M505.2 191.05l1.3 1.3l-1.3 1.3l-1.3-1.3z" fill="#000" stroke="none"/>
<path d="M390 221.85L404.4 219.65M404.4 219.65L418.8 208.25M418.8 208.25L433.2 200.15M433.2 200.15L447.6 188.55M447.6 188.55L462 184.85M462 184.85L476.4 175.15M476.4 175.15L490.8 163.55M490.8 163.55L505.2 160.95" fill="none" stroke="#111" stroke-width="0.9" stroke-linecap="round"/>
<rect x="388.7" y="220.55" width="2.6" height="2.6" fill="#000" stroke="none"/>
<rect x="403.1" y="218.35" width="2.6" height="2.6" fill="#000" stroke="none"/>
<rect x="417.5" y="206.95" width="2.6" height="2.6" fill="#000" stroke="none"/>
<rect x="431.9" y="198.85" width="2.6" height="2.6" fill="#000" stroke="none"/>
<rect x="446.3" y="187.25" width="2.6" height="2.6" fill="#000" stroke="none"/>
<rect x="460.7" y="183.55" width="2.6" height="2.6" fill="#000" stroke="none"/>
<rect x="475.1" y="173.85" width="2.6" height="2.6" fill="#000" stroke="none"/>
<rect x="489.5" y="162.25" width="2.6" height="2.6" fill="#000" stroke="none"/>
<rect x="503.9" y="159.65" width="2.6" height="2.6" fill="#000" stroke="none"/>
<text x="390.65" y="220.15" text-anchor="middle" font-size="3.4" letter-spacing="1.3" fill="#000" stroke="#000" stroke-width="0.15">**</text>
<text x="405.05" y="217.95" text-anchor="middle" font-size="3.4" letter-spacing="1.3" fill="#000" stroke="#000" stroke-width="0.15">**</text>
<text x="419.45" y="205.25" text-anchor="middle" font-size="3.4" letter-spacing="1.3" fill="#000" stroke="#000" stroke-width="0.15">**</text>
<text x="433.85" y="198.25" text-anchor="middle" font-size="3.4" letter-spacing="1.3" fill="#000" stroke="#000" stroke-width="0.15">**</text>
<text x="448.25" y="186.65" text-anchor="middle" font-size="3.4" letter-spacing="1.3" fill="#000" stroke="#000" stroke-width="0.15">**</text>
<text x="462.65" y="182.45" text-anchor="middle" font-size="3.4" letter-spacing="1.3" fill="#000" stroke="#000" stroke-width="0.15">**</text>
<text x="477.05" y="173.25" text-anchor="middle" font-size="3.4" letter-spacing="1.3" fill="#000" stroke="#000" stroke-width="0.15">**</text>
<text x="491.45" y="150.95" text-anchor="middle" font-size="3.4" letter-spacing="1.3" fill="#000" stroke="#000" stroke-width="0.15">**</text>
<text x="505.85" y="159.05" text-anchor="middle" font-size="3.4" letter-spacing="1.3" fill="#000" stroke="#000" stroke-width="0.15">**</text>
<path d="M478.1 135.1h6.6" stroke="#222" stroke-width="0.6"/>
<rect x="480.1" y="133.8" width="2.6" height="2.6" fill="#000" stroke="none"/>
<path d="M478.1 144.6h6.6" stroke="#111" stroke-width="0.7" stroke-dasharray="1.8 1.1 0.5 1.1"/>
<path d="M481.4 143.3l1.3 1.3l-1.3 1.3l-1.3-1.3z" fill="#000" stroke="none"/>
<text transform="translate(488.5 137.35) scale(0.955 1)" font-size="6.3">W1844-SS</text>
<text transform="translate(488.5 146.85) scale(0.955 1)" font-size="6.3">W1844-IS</text>
</g>
<g>
<rect x="538.5" y="128.5" width="144" height="96.15" fill="none" stroke="#3a3a3a" stroke-width="0.8"/>
<path d="M552.5 224.65v-2.2M566.9 224.65v-1.1M581.3 224.65v-2.2M595.7 224.65v-1.1M610.1 224.65v-2.2M624.5 224.65v-1.1M638.9 224.65v-2.2M653.3 224.65v-1.1M667.7 224.65v-2.2M538.5 192.65h2.6M538.5 160.65h2.6" stroke="#222" stroke-width="0.85" fill="none"/>
<text transform="translate(552.5 231.75) scale(0.94 1)" text-anchor="middle" font-size="6.1">4</text>
<text transform="translate(581.3 231.75) scale(0.94 1)" text-anchor="middle" font-size="6.1">8</text>
<text transform="translate(610.1 231.75) scale(0.94 1)" text-anchor="middle" font-size="6.1">12</text>
<text transform="translate(638.9 231.75) scale(0.94 1)" text-anchor="middle" font-size="6.1">16</text>
<text transform="translate(667.7 231.75) scale(0.94 1)" text-anchor="middle" font-size="6.1">20</text>
<text transform="translate(610.6 239.5) scale(0.962 1)" text-anchor="middle" font-size="6.06">Days post anthesis (d)</text>
<path d="M581.3 197V203.5M610.1 184V188.2M624.5 167.6V181.7M653.3 150V154.5M667.7 145.3V151.2" stroke="#222" stroke-width="0.5" fill="none"/>
<path d="M579.9 197h2.8M579.9 203.5h2.8M608.7 184h2.8M608.7 188.2h2.8M623.1 167.6h2.8M623.1 181.7h2.8M651.9 150h2.8M651.9 154.5h2.8M666.3 145.3h2.8M666.3 151.2h2.8" stroke="#333" stroke-width="0.5" fill="none"/>
<polyline points="552.5,224.3 566.9,224.3 581.3,223.7 595.7,222.2 610.1,220.7 624.5,216.3 638.9,214.1 653.3,207.9 667.7,195.5" fill="none" stroke="#111" stroke-width="0.7" stroke-dasharray="1.8 1.1 0.5 1.1"/>
<path d="M552.5 223l1.3 1.3l-1.3 1.3l-1.3-1.3z" fill="#000" stroke="none"/>
<path d="M566.9 223l1.3 1.3l-1.3 1.3l-1.3-1.3z" fill="#000" stroke="none"/>
<path d="M581.3 222.4l1.3 1.3l-1.3 1.3l-1.3-1.3z" fill="#000" stroke="none"/>
<path d="M595.7 220.9l1.3 1.3l-1.3 1.3l-1.3-1.3z" fill="#000" stroke="none"/>
<path d="M610.1 219.4l1.3 1.3l-1.3 1.3l-1.3-1.3z" fill="#000" stroke="none"/>
<path d="M624.5 215l1.3 1.3l-1.3 1.3l-1.3-1.3z" fill="#000" stroke="none"/>
<path d="M638.9 212.8l1.3 1.3l-1.3 1.3l-1.3-1.3z" fill="#000" stroke="none"/>
<path d="M653.3 206.6l1.3 1.3l-1.3 1.3l-1.3-1.3z" fill="#000" stroke="none"/>
<path d="M667.7 194.2l1.3 1.3l-1.3 1.3l-1.3-1.3z" fill="#000" stroke="none"/>
<path d="M552.5 219.6L566.9 216.2M566.9 216.2L581.3 200.3M581.3 200.3L595.7 196.6M595.7 196.6L610.1 186M610.1 186L624.5 174.8M624.5 174.8L638.9 163.7M638.9 163.7L653.3 152.3M653.3 152.3L667.7 147.9" fill="none" stroke="#111" stroke-width="0.9" stroke-linecap="round"/>
<rect x="551.2" y="218.3" width="2.6" height="2.6" fill="#000" stroke="none"/>
<rect x="565.6" y="214.9" width="2.6" height="2.6" fill="#000" stroke="none"/>
<rect x="580" y="199" width="2.6" height="2.6" fill="#000" stroke="none"/>
<rect x="594.4" y="195.3" width="2.6" height="2.6" fill="#000" stroke="none"/>
<rect x="608.8" y="184.7" width="2.6" height="2.6" fill="#000" stroke="none"/>
<rect x="623.2" y="173.5" width="2.6" height="2.6" fill="#000" stroke="none"/>
<rect x="637.6" y="162.4" width="2.6" height="2.6" fill="#000" stroke="none"/>
<rect x="652" y="151" width="2.6" height="2.6" fill="#000" stroke="none"/>
<rect x="666.4" y="146.6" width="2.6" height="2.6" fill="#000" stroke="none"/>
<text x="553.15" y="217.8" text-anchor="middle" font-size="3.4" letter-spacing="1.3" fill="#000" stroke="#000" stroke-width="0.15">**</text>
<text x="567.55" y="214.3" text-anchor="middle" font-size="3.4" letter-spacing="1.3" fill="#000" stroke="#000" stroke-width="0.15">**</text>
<text x="581.95" y="196.8" text-anchor="middle" font-size="3.4" letter-spacing="1.3" fill="#000" stroke="#000" stroke-width="0.15">**</text>
<text x="596.35" y="195" text-anchor="middle" font-size="3.4" letter-spacing="1.3" fill="#000" stroke="#000" stroke-width="0.15">**</text>
<text x="610.75" y="183.7" text-anchor="middle" font-size="3.4" letter-spacing="1.3" fill="#000" stroke="#000" stroke-width="0.15">**</text>
<text x="625.15" y="167.4" text-anchor="middle" font-size="3.4" letter-spacing="1.3" fill="#000" stroke="#000" stroke-width="0.15">**</text>
<text x="639.55" y="161.9" text-anchor="middle" font-size="3.4" letter-spacing="1.3" fill="#000" stroke="#000" stroke-width="0.15">**</text>
<text x="653.95" y="149.5" text-anchor="middle" font-size="3.4" letter-spacing="1.3" fill="#000" stroke="#000" stroke-width="0.15">**</text>
<text x="668.35" y="145" text-anchor="middle" font-size="3.4" letter-spacing="1.3" fill="#000" stroke="#000" stroke-width="0.15">**</text>
<path d="M644.1 133.9h6.6" stroke="#222" stroke-width="0.6"/>
<rect x="646.1" y="132.6" width="2.6" height="2.6" fill="#000" stroke="none"/>
<path d="M644.1 140.4h6.6" stroke="#111" stroke-width="0.7" stroke-dasharray="1.8 1.1 0.5 1.1"/>
<path d="M647.4 139.1l1.3 1.3l-1.3 1.3l-1.3-1.3z" fill="#000" stroke="none"/>
<text transform="translate(654.6 136.15) scale(0.955 1)" font-size="6.3">CJ03-SS</text>
<text transform="translate(654.6 142.65) scale(0.955 1)" font-size="6.3">CJ03-IS</text>
</g>
<text transform="translate(6.3 54.6) rotate(-90) scale(0.945 1)" text-anchor="middle" font-size="6">Fructose content (ug grain<tspan font-size="5" dy="-2.6" stroke-width="0.05">-1</tspan><tspan dy="2.6"> FW)</tspan></text>
<text transform="translate(6.3 171.75) rotate(-90) scale(0.973 1)" text-anchor="middle" font-size="6">Glucose content (ug grain<tspan font-size="5" dy="-2.6" stroke-width="0.05">-1</tspan><tspan dy="2.6"> FW)</tspan></text>
<text transform="translate(363.1 55.85) rotate(-90) scale(0.973 1)" text-anchor="middle" font-size="6">Sucrose content (ug grain<tspan font-size="5" dy="-2.6" stroke-width="0.05">-1</tspan><tspan dy="2.6"> FW)</tspan></text>
<text transform="translate(364 176.65) rotate(-90) scale(0.953 1)" text-anchor="middle" font-size="6">Starch content (mg grain<tspan font-size="5" dy="-2.6" stroke-width="0.05">-1</tspan><tspan dy="2.6"> FW)</tspan></text>
<text x="2" y="6.4" font-size="8.5" font-weight="bold" fill="#000" stroke="#000" stroke-width="0.2">A</text>
<text x="0.6" y="124.9" font-size="8.5" font-weight="bold" fill="#000" stroke="#000" stroke-width="0.2">B</text>
<text x="358.2" y="7.6" font-size="8.5" font-weight="bold" fill="#000" stroke="#000" stroke-width="0.2">C</text>
<text x="359.5" y="127.3" font-size="8.5" font-weight="bold" fill="#000" stroke="#000" stroke-width="0.2">D</text>
</svg>
</body></html>
